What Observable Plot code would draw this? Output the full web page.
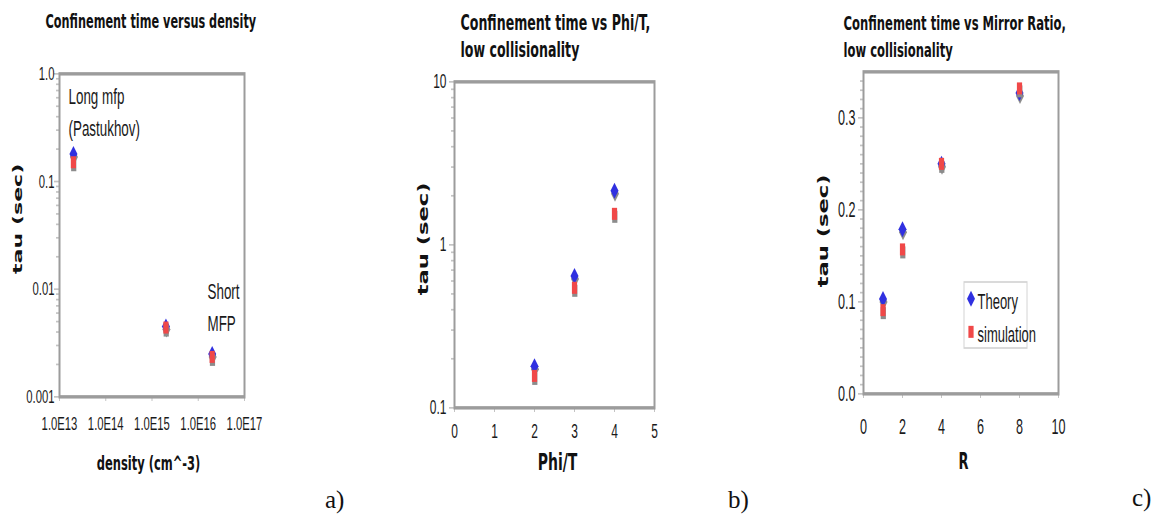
<!DOCTYPE html>
<html><head><meta charset="utf-8">
<script src="https://cdn.jsdelivr.net/npm/d3@7"></script>
<script src="https://cdn.jsdelivr.net/npm/@observablehq/plot@0.6"></script>
<style>
body{margin:0;background:#fff;}
#root{position:relative;width:1167px;height:520px;overflow:hidden;background:#fff;}
.tag{position:absolute;font-family:"Liberation Serif","DejaVu Serif",serif;font-size:25px;color:#111;line-height:1;}
</style></head><body><div id="root"></div>
<script>
// ---------------- data ----------------
const densityN = [2e13, 2e15, 2e16];
const densityTheory = [0.18, 0.0045, 0.0025];
const densitySim = [0.151, 0.0044, 0.00235];

const phiT = [2, 3, 4];
const phiTheory = [0.18, 0.645, 2.15];
const phiSim = [0.157, 0.545, 1.55];

const mirrorR = [1, 2, 4, 8];
const mirrorTheory = [0.103, 0.179, 0.25, 0.327];
const mirrorSim = [0.091, 0.157, 0.25, 0.332];

const densityTicks = [1e13, 1e14, 1e15, 1e16, 1e17];
const densityTickLabels = ["1.0E13", "1.0E14", "1.0E15", "1.0E16", "1.0E17"];
const tauTicksA = [0.001, 0.01, 0.1, 1];
const tauTickLabelsA = ["0.001", "0.01", "0.1", "1.0"];
const phiTicks = [0, 1, 2, 3, 4, 5];
const tauTicksB = [0.1, 1, 10];
const tauTickLabelsB = ["0.1", "1", "10"];
const rTicks = [0, 2, 4, 6, 8, 10];
const tauTicksC = [0, 0.1, 0.2, 0.3];
const tauTickLabelsC = ["0.0", "0.1", "0.2", "0.3"];

const titles = ["Confinement time versus density",
                "Confinement time vs Phi/T,\nlow collisionality",
                "Confinement time vs Mirror Ratio,\nlow collisionality"];
const xLabels = ["density (cm^-3)", "Phi/T", "R"];
const yLabel = "tau (sec)";
const panelTags = ["a)", "b)", "c)"];
const seriesNames = ["Theory", "simulation"];
const notesA = ["Long mfp\n(Pastukhov)", "Short\nMFP"];

// ---------------- styling ----------------
const S = 1.7;                  // vertical stretch of the original figure
const v = px => px / S;
const H0 = 520 / S;
const BLUE = "#3030e0", RED = "#f04848", SHADOW = "#8c8c8c", TICK = "#c4c4c4", FRAME = "#9c9c9c";
const SANS = '"Liberation Sans",Arial,sans-serif';
const BOLD = '"DejaVu Sans",Verdana,sans-serif';
const root = document.getElementById("root");

const diamond = {draw(ctx) { const w = 4, h = 8 / S; ctx.moveTo(0, -h); ctx.lineTo(w, 0); ctx.lineTo(0, h); ctx.lineTo(-w, 0); ctx.closePath(); }};
const bar = {draw(ctx) { const w = 2.6, h = 6 / S; ctx.rect(-w, -h, 2 * w, 2 * h); }};

function seriesMarks(xs, theory, sim) {
  const T = xs.map((x, i) => ({x, y: theory[i]}));
  const M = xs.map((x, i) => ({x, y: sim[i]}));
  return [
    Plot.dot(T, {x: "x", y: "y", symbol: diamond, fill: SHADOW, stroke: "none", dx: 0.5, dy: v(3)}),
    Plot.dot(T, {x: "x", y: "y", symbol: diamond, fill: BLUE, stroke: "none"}),
    Plot.dot(M, {x: "x", y: "y", symbol: bar, fill: SHADOW, stroke: "none", dx: 0.3, dy: v(3)}),
    Plot.dot(M, {x: "x", y: "y", symbol: bar, fill: RED, stroke: "none"})
  ];
}
const fmt = (ticks, labels) => d => labels[ticks.indexOf(d)];
const logMinor = (lo, hi) => { const out = []; for (let e = lo; e < hi; e++) for (let k = 2; k <= 9; k++) out.push(k * 10 ** e); return out; };

function panel({left, width, mt, mb, ml, mr, x, y, marks, fontSize}) {
  const svg = Plot.plot({
    width, height: H0,
    marginTop: v(mt), marginBottom: v(mb), marginLeft: ml, marginRight: mr,
    x, y,
    style: {fontFamily: SANS, fontSize: fontSize + "px", color: "#1a1a1a", background: "transparent", overflow: "visible"},
    marks
  });
  svg.setAttribute("viewBox", `0 0 ${width} ${H0}`);
  svg.setAttribute("preserveAspectRatio", "none");
  svg.setAttribute("height", 520);
  svg.style.position = "absolute";
  svg.style.left = left + "px";
  svg.style.top = "0px";
  svg.style.width = width + "px";
  svg.style.height = "520px";
  svg.style.maxWidth = "none";
  root.append(svg);
  return svg;
}

function titleMark(text, dx, dyFinal, mt, size) {
  return Plot.text([text], {frameAnchor: "top-left", dx, dy: v(dyFinal - mt), lineAnchor: "top", textAnchor: "start",
    fontFamily: BOLD, fontWeight: "bold", fontSize: size, lineHeight: v(27) / size, fill: "#111"});
}
function xLabelMark(text, dx, topFinal, bottomFinal, size) {
  return Plot.text([text], {frameAnchor: "bottom", dx, dy: v(topFinal - bottomFinal), lineAnchor: "top", textAnchor: "middle",
    fontFamily: BOLD, fontWeight: "bold", fontSize: size, fill: "#111"});
}
function yLabelMark(dx, dyFinal, size) {
  return Plot.text([yLabel], {frameAnchor: "left", rotate: -90, dx, dy: v(dyFinal), lineAnchor: "middle", textAnchor: "middle",
    fontFamily: BOLD, fontWeight: "bold", fontSize: size, fill: "#111"});
}

// ---------------- panel a ----------------
panel({
  left: 0, width: 380, mt: 73, mb: 124, ml: 59, mr: 136, fontSize: 11.3,
  x: {type: "log", domain: [1e13, 1e17]},
  y: {type: "log", domain: [0.001, 1]},
  marks: [
    Plot.axisX(densityTicks, {tickSize: v(5), tickPadding: v(19.5 - 5), stroke: TICK, tickFormat: fmt(densityTicks, densityTickLabels), label: null}),
    Plot.axisY(logMinor(-3, 0), {tickSize: 3, tickFormat: () => "", stroke: TICK, label: null}),
    Plot.axisY(tauTicksA, {tickSize: 5, tickPadding: 0, stroke: TICK, tickFormat: fmt(tauTicksA, tauTickLabelsA), label: null}),
    Plot.frame({stroke: FRAME, strokeWidth: 2}),
    ...seriesMarks(densityN, densityTheory, densitySim),
    Plot.text([notesA[0]], {frameAnchor: "top-left", dx: 68 - 59, dy: v(80 - 73), lineAnchor: "top", textAnchor: "start", fontSize: 13.4, lineHeight: v(32) / 13.4}),
    Plot.text([notesA[1]], {frameAnchor: "top-left", dx: 207 - 59, dy: v(275 - 73), lineAnchor: "top", textAnchor: "start", fontSize: 13.4, lineHeight: v(32) / 13.4}),
    titleMark(titles[0], 45 - 59, 8, 73, 11.3),
    xLabelMark(xLabels[0], 148 - 151.5, 455, 396, 11.5),
    yLabelMark(17 - 59, 218 - 234.5, 13)
  ]
});

// ---------------- panel b ----------------
panel({
  left: 380, width: 400, mt: 81, mb: 113, ml: 74, mr: 126, fontSize: 12,
  x: {domain: [0, 5]},
  y: {type: "log", domain: [0.1, 10]},
  marks: [
    Plot.axisX(phiTicks, {tickSize: v(5), tickPadding: v(16 - 5), stroke: TICK, tickFormat: d => String(d), label: null}),
    Plot.axisY(logMinor(-1, 1), {tickSize: 3, tickFormat: () => "", stroke: TICK, label: null}),
    Plot.axisY(tauTicksB, {tickSize: 5, tickPadding: 3, stroke: TICK, tickFormat: fmt(tauTicksB, tauTickLabelsB), label: null}),
    Plot.frame({stroke: FRAME, strokeWidth: 2}),
    ...seriesMarks(phiT, phiTheory, phiSim),
    titleMark(titles[1], 460 - 454, 10, 81, 12.6),
    xLabelMark(xLabels[1], 557 - 554, 452, 407, 14),
    yLabelMark(423 - 454, 238 - 244, 13.3)
  ]
});

// ---------------- panel c ----------------
const legendBox = () => d3.create("svg:rect")
  .attr("x", 964 - 780).attr("y", v(282)).attr("width", 63).attr("height", v(66))
  .attr("fill", "#fff").attr("stroke", "#d4d4d4").attr("stroke-width", 1).node();
const minorC = d3.range(1, 35).filter(i => i % 10 !== 0).map(i => i / 100);

panel({
  left: 780, width: 387, mt: 71, mb: 127, ml: 83, mr: 109, fontSize: 12.6,
  x: {domain: [0, 10]},
  y: {domain: [0, 0.35]},
  marks: [
    Plot.axisX(rTicks, {tickSize: v(5), tickPadding: v(25 - 5), stroke: TICK, tickFormat: d => String(d), label: null}),
    Plot.axisY(minorC, {tickSize: 3, tickFormat: () => "", stroke: TICK, label: null}),
    Plot.axisY(tauTicksC, {tickSize: 5, tickPadding: 3, stroke: TICK, tickFormat: fmt(tauTicksC, tauTickLabelsC), label: null}),
    Plot.frame({stroke: FRAME, strokeWidth: 2}),
    ...seriesMarks(mirrorR, mirrorTheory, mirrorSim),
    legendBox,
    Plot.dot([0], {frameAnchor: "top-left", dx: 970.5 - 863, dy: v(298 - 71), symbol: diamond, fill: BLUE, stroke: "none"}),
    Plot.dot([0], {frameAnchor: "top-left", dx: 970.5 - 863, dy: v(331 - 71), symbol: bar, fill: RED, stroke: "none"}),
    Plot.text([seriesNames[0]], {frameAnchor: "top-left", dx: 977 - 863, dy: v(292 - 71), lineAnchor: "top", textAnchor: "start", fontSize: 13}),
    Plot.text([seriesNames[1]], {frameAnchor: "top-left", dx: 977 - 863, dy: v(325 - 71), lineAnchor: "top", textAnchor: "start", fontSize: 13}),
    titleMark(titles[2], 843 - 863, 10, 71, 11.6),
    xLabelMark(xLabels[2], 963 - 960.5, 452, 393, 13),
    yLabelMark(823 - 863, 230 - 232, 13.3)
  ]
});

// ---------------- panel tags ----------------
[[325, 487], [728, 487], [1132, 485]].forEach(([l, t], i) => {
  const d = document.createElement("div");
  d.className = "tag";
  d.style.left = l + "px";
  d.style.top = t + "px";
  d.textContent = panelTags[i];
  root.append(d);
});
</script></body></html>
